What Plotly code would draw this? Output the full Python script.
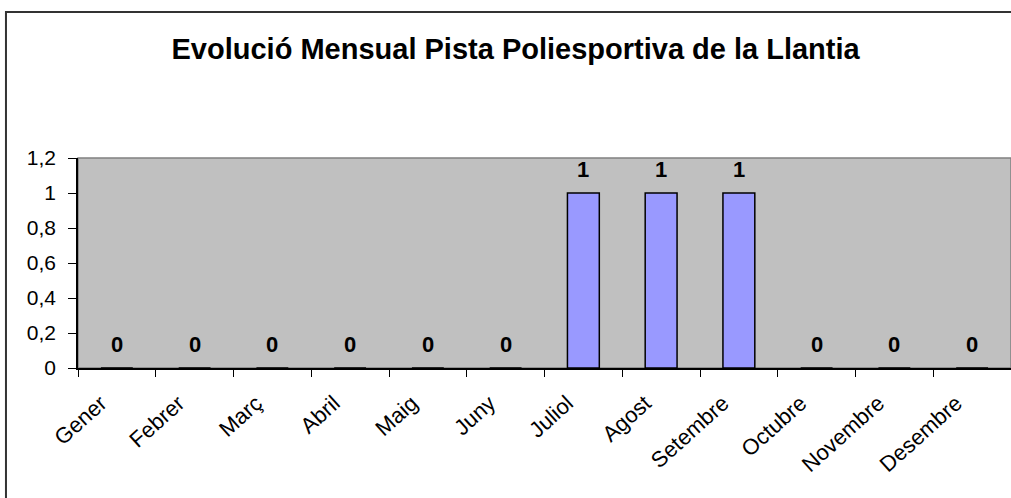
import plotly.graph_objects as go

months = ["Gener", "Febrer", "Març", "Abril", "Maig", "Juny", "Juliol",
          "Agost", "Setembre", "Octubre", "Novembre", "Desembre"]
values = [0, 0, 0, 0, 0, 0, 1, 1, 1, 0, 0, 0]
title_text = "Evolució Mensual Pista Poliesportiva de la Llantia"
y_ticks = [0, 0.2, 0.4, 0.6, 0.8, 1, 1.2]

FONT = "Liberation Sans, Arial, sans-serif"

fig = go.Figure()
fig.add_trace(go.Bar(
    x=months, y=values,
    marker=dict(color="#9999FF", line=dict(color="black", width=1.5)),
    hoverinfo="x+y",
))

for m, v in zip(months, values):
    fig.add_annotation(
        x=m, y=v, xref="x", yref="y", text=f"<b>{v}</b>",
        showarrow=False, yshift=24, yanchor="middle",
        font=dict(family=FONT, size=22, color="black"),
    )

# plot-area border (gray) and outer chart border
fig.add_shape(type="rect", xref="paper", yref="paper", x0=0, y0=0, x1=1, y1=1,
              line=dict(color="#808080", width=1.5), layer="below")
fig.add_shape(type="rect", xref="paper", yref="paper",
              x0=-0.0772, y0=-0.7, x1=1.05, y1=1.695,
              line=dict(color="#333333", width=2))

fig.update_layout(
    width=1011, height=498,
    margin=dict(l=78, r=0, t=158, b=130),
    paper_bgcolor="white", plot_bgcolor="#C0C0C0",
    separators=",.",
    showlegend=False,
    bargap=0.59,
    title=dict(text=f"<b>{title_text}</b>", x=0.51, xref="container",
               xanchor="center", y=1 - 49 / 498, yanchor="middle",
               font=dict(family=FONT, size=29, color="black")),
    font=dict(family=FONT, color="black"),
)

fig.update_xaxes(
    showline=True, linecolor="black", linewidth=1.5,
    ticks="outside", ticklen=7, tickcolor="black", tickwidth=1,
    tickson="boundaries", tickangle=-42,
    ticklabelshift=-16, ticklabelstandoff=12,
    tickfont=dict(family=FONT, size=22, color="black"),
    showgrid=False, zeroline=False,
)
fig.update_yaxes(
    range=[0, 1.2], tickvals=y_ticks,
    showline=True, linecolor="black", linewidth=1.5,
    ticks="outside", ticklen=8, tickcolor="black", tickwidth=1,
    ticklabelstandoff=8,
    tickfont=dict(family=FONT, size=21, color="black"),
    showgrid=False, zeroline=False,
)

fig.write_html(
    "out.html",
    config={"displayModeBar": False},
    post_script="document.body.style.margin='0';document.body.style.overflow='hidden';",
)
